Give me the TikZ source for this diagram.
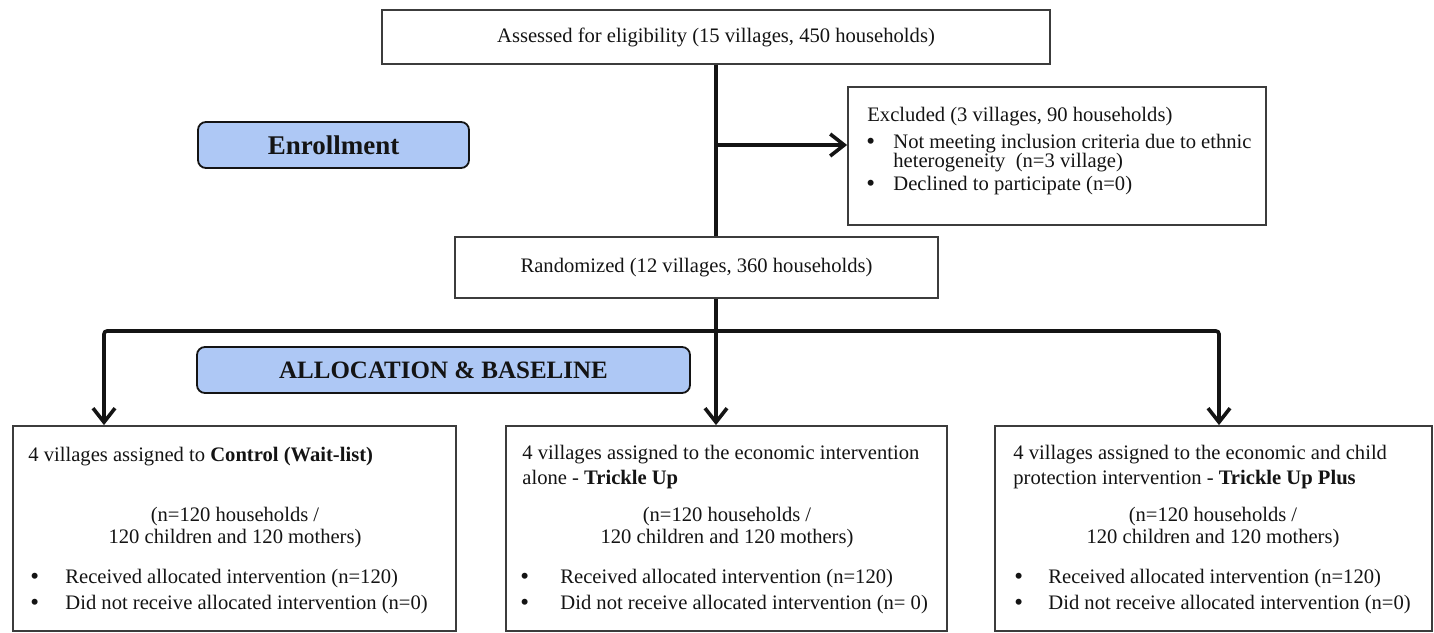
\documentclass[tikz,border=0pt]{standalone}
\usepackage{fontspec}
\setmainfont{Liberation Serif}
\usetikzlibrary{arrows.meta,calc,positioning}
\definecolor{ink}{HTML}{141414}
\definecolor{frame}{HTML}{3C3C3C}
\definecolor{phase}{HTML}{AEC8F5}
\newcommand{\bul}{{\fontsize{12.5}{12.5}\selectfont\textbullet}}

\begin{document}
\begin{tikzpicture}[x=.5pt,y=-.5pt,
  font=\fontsize{10.3}{12}\selectfont,
  box/.style={draw=frame,line width=.9pt,fill=white,inner sep=0pt,text=ink},
  phasebox/.style={draw=ink,fill=phase,rounded corners=4pt,line width=.9pt,inner sep=0pt,text=ink},
  txt/.style={anchor=base west,inner sep=0pt,text=ink},
  ctr/.style={anchor=base,inner sep=0pt,text=ink},
  conn/.style={draw=ink,line width=1.8pt,rounded corners=1.5pt},
  tip/.style={-{Straight Barb[length=7pt,width=11pt]}}]
  \useasboundingbox (0,0) rectangle (1434,632);
  % boxes
  \node[box,minimum width=334pt,minimum height=27pt] (assess) at (716,37)
    {Assessed for eligibility (15 villages, 450 households)};
  \node[box,minimum width=209pt,minimum height=69pt] (excl) at (1057,156) {};
  \node[phasebox,minimum width=135.5pt,minimum height=23pt,
    font=\fontsize{13.5}{15}\selectfont\bfseries] (enroll) at (333.5,145) {Enrollment};
  \node[box,minimum width=241.5pt,minimum height=30.5pt] (rand) at (696.5,267.5)
    {\raisebox{-2pt}{Randomized (12 villages, 360 households)}};
  \node[phasebox,minimum width=246.5pt,minimum height=23pt,
    font=\fontsize{12.5}{14}\selectfont\bfseries] (alloc) at (443.5,370) {ALLOCATION \& BASELINE};
  \node[box,minimum width=221.5pt,minimum height=102.5pt] (ctrl) at (234.5,528.5) {};
  \node[box,minimum width=220.5pt,minimum height=102.5pt] (tu) at (726.5,528.5) {};
  \node[box,minimum width=218.5pt,minimum height=102.5pt] (tup) at (1213.5,528.5) {};
  % excluded
  \node[txt] (exclhead) at (867,121) {Excluded (3 villages, 90 households)};
  \node[txt] (exclb1) at (866,149) {\bul};
  \node[txt] (excl1) at (893,148) {Not meeting inclusion criteria due to ethnic};
  \node[txt] (excl2) at (893,167) {heterogeneity~ (n=3 village)};
  \node[txt] (exclb2) at (866,191) {\bul};
  \node[txt] (excl3) at (893,190) {Declined to participate (n=0)};
  % control arm
  \node[txt] (ctrlhead) at (28,461) {4 villages assigned to \textbf{Control (Wait-list)}};
  \node[ctr] (ctrln1) at (235,521) {(n=120 households /};
  \node[ctr] (ctrln2) at (235,543) {120 children and 120 mothers)};
  \node[txt] (ctrlb1) at (30,584) {\bul};
  \node[txt] (ctrlr1) at (65,583) {Received allocated intervention (n=120)};
  \node[txt] (ctrlb2) at (30,610) {\bul};
  \node[txt] (ctrlr2) at (65,609) {Did not receive allocated intervention (n=0)};
  % trickle up arm
  \node[txt] (tuhead) at (522,459) {4 villages assigned to the economic intervention};
  \node[txt] (tuhead2) at (522,484) {alone - \textbf{Trickle Up}};
  \node[ctr] (tun1) at (727,521) {(n=120 households /};
  \node[ctr] (tun2) at (727,543) {120 children and 120 mothers)};
  \node[txt] (tub1) at (520,584) {\bul};
  \node[txt] (tur1) at (560,583) {Received allocated intervention (n=120)};
  \node[txt] (tub2) at (520,610) {\bul};
  \node[txt] (tur2) at (560,609) {Did not receive allocated intervention (n= 0)};
  % trickle up plus arm
  \node[txt] (tuphead) at (1013,459) {4 villages assigned to the economic and child};
  \node[txt] (tuphead2) at (1013,484) {protection intervention - \textbf{Trickle Up Plus}};
  \node[ctr] (tupn1) at (1213,521) {(n=120 households /};
  \node[ctr] (tupn2) at (1213,543) {120 children and 120 mothers)};
  \node[txt] (tupb1) at (1014,584) {\bul};
  \node[txt] (tupr1) at (1048,583) {Received allocated intervention (n=120)};
  \node[txt] (tupb2) at (1014,610) {\bul};
  \node[txt] (tupr2) at (1048,609) {Did not receive allocated intervention (n=0)};
  % connectors
  \coordinate (fork) at (716,145);
  \coordinate (branch) at (716,331);
  \coordinate (toctrl) at (104,331);
  \coordinate (totup) at (1219,331);
  \draw[conn] (assess.south) -- (assess.south |- rand.north);
  \draw[conn,tip] (fork) -- (fork -| excl.west);
  \draw[conn] (assess.south |- rand.south) -- (branch);
  \draw[conn,tip] (branch) -- (toctrl) -- (toctrl |- ctrl.north);
  \draw[conn,tip] (branch) -- (totup) -- (totup |- tup.north);
  \draw[conn,tip] (branch) -- (branch |- tu.north);
\end{tikzpicture}
\end{document}
